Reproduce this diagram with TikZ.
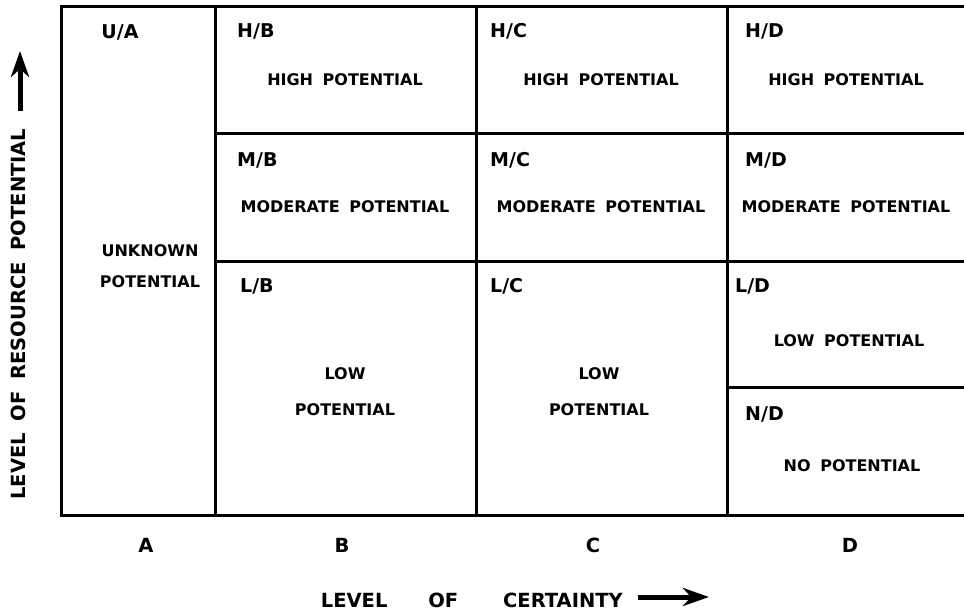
\documentclass[tikz,border=0pt]{standalone}
\usepackage{fontspec}
\setmainfont{DejaVu Sans}
\usetikzlibrary{arrows.meta}

\newcommand{\wsp}{\hspace{0.6em}}

\tikzset{
  grid line/.style={line width=3pt, line cap=rect},
  cellid/.style={font=\bfseries\fontsize{19}{19}\selectfont, anchor=base west, inner sep=0pt},
  celltext/.style={font=\bfseries\fontsize{16}{16}\selectfont, anchor=base, inner sep=0pt},
  axistext/.style={font=\bfseries\fontsize{19.5}{19.5}\selectfont, anchor=base, inner sep=0pt},
  fatarrow/.style={line width=5pt, -{Stealth[length=26pt,width=18pt,inset=8pt]}}
}

\begin{document}
\begin{tikzpicture}[x=1pt,y=-1pt]
\useasboundingbox (0,0) rectangle (964,612);

% frame and cells
\draw[grid line] (964,7) -- (61,7) -- (61,515) -- (964,515);
\foreach \x in {215,476,727}
	\draw[grid line] (\x,7) -- (\x,515);
\foreach \y in {134,262}
	\draw[grid line] (215,\y) -- (964,\y);
\draw[grid line] (727,387) -- (964,387);

% column A
\node[cellid, anchor=base] (ua) at (120,39) {U/A};
\node[celltext] (unk) at (150,257) {UNKNOWN};
\node[celltext] (unkpot) at (150,288) {POTENTIAL};

% columns B, C, D: high and moderate
\foreach \c/\xl/\xm in {B/237/345, C/490/601, D/745/846} {
	\node[cellid] (h\c) at (\xl,38) {H/\c};
	\node[celltext] (hp\c) at (\xm,86) {HIGH\wsp POTENTIAL};
	\node[cellid] (m\c) at (\xl,167) {M/\c};
	\node[celltext] (mp\c) at (\xm,213) {MODERATE\wsp POTENTIAL};
}

% low, columns B and C
\foreach \c/\xl/\xm in {B/240/345, C/490/599} {
	\node[cellid] (l\c) at (\xl,293) {L/\c};
	\node[celltext] (low\c) at (\xm,379) {LOW};
	\node[celltext] (lp\c) at (\xm,415) {POTENTIAL};
}

% column D, low and none
\node[cellid] (lD) at (735,293) {L/D};
\node[celltext] (lpD) at (849,347) {LOW\wsp POTENTIAL};
\node[cellid] (nD) at (745,420) {N/D};
\node[celltext] (npD) at (852,471) {NO\wsp POTENTIAL};

% column letters
\foreach \c/\x in {A/146, B/342, C/593, D/850}
	\node[axistext] (col\c) at (\x,552) {\c};

% axis titles
\node[axistext, anchor=base east] (xlab) at (623,607)
	{LEVEL\hspace{2.1em}OF\hspace{2.3em}CERTAINTY};
\node[axistext, rotate=90] (ylab) at (25,314)
	{LEVEL\hspace{0.6em}OF\hspace{0.6em}RESOURCE\hspace{0.6em}POTENTIAL};

\coordinate (xa) at (638,597);
\coordinate (xb) at (709,597);
\draw[fatarrow] (xa) -- (xb);
\coordinate (ya) at (20,111);
\coordinate (yb) at (20,51);
\draw[fatarrow] (ya) -- (yb);
\end{tikzpicture}
\end{document}
